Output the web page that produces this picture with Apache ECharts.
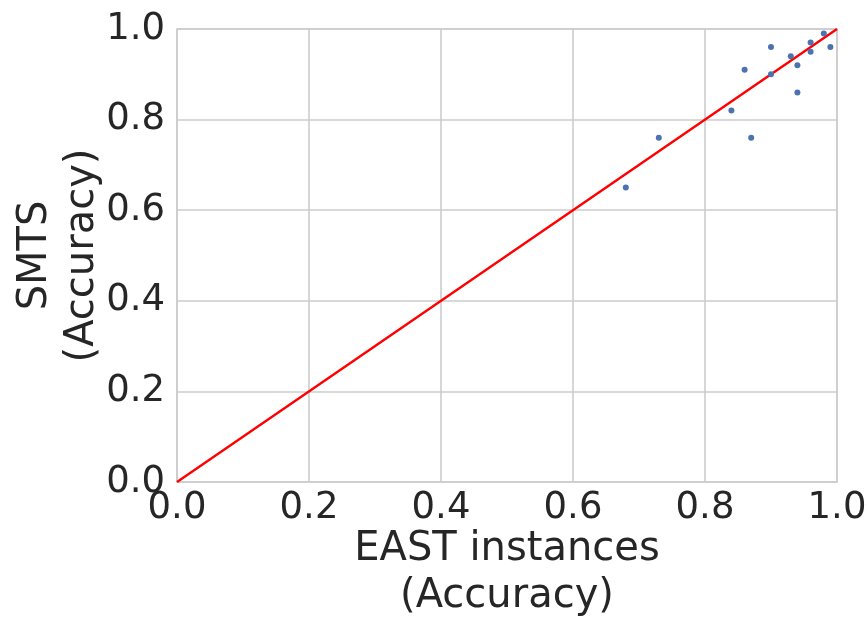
<!DOCTYPE html>
<html><head><meta charset="utf-8">
<script src="https://cdn.jsdelivr.net/npm/echarts@6/dist/echarts.min.js"></script>
<style>html,body{margin:0;padding:0;background:#fff}#c{width:868px;height:625px}</style>
</head><body><div id="c"></div>
<script>
const eastAcc = [0.98, 0.99, 0.96, 0.96, 0.93, 0.94, 0.90, 0.90, 0.86, 0.94, 0.84, 0.87, 0.73, 0.68];
const smtsAcc = [0.99, 0.96, 0.97, 0.95, 0.94, 0.92, 0.96, 0.90, 0.91, 0.86, 0.82, 0.76, 0.76, 0.65];
const diagX = [0, 1];
const diagY = [0, 1];
const xTitle = 'EAST instances\n(Accuracy)';
const yTitle = 'SMTS\n(Accuracy)';

const chart = echarts.init(document.getElementById('c'));
const font = 'DejaVu Sans';
chart.setOption({
  animation: false,
  backgroundColor: '#fff',
  grid: {left: 177, right: 31, top: 29, bottom: 143, containLabel: false, outerBoundsMode: 'none',
         show: true, borderColor: '#cccccc', borderWidth: 1.6},
  xAxis: {
    type: 'value', min: 0, max: 1, interval: 0.2,
    name: xTitle, nameLocation: 'middle', nameGap: 44, nameMoveOverlap: false,
    nameTextStyle: {fontFamily: font, fontSize: 40, color: '#262626', lineHeight: 47},
    axisLine: {show: false}, axisTick: {show: false},
    axisLabel: {fontFamily: font, fontSize: 37, color: '#262626', margin: 8, formatter: v => v.toFixed(1)},
    splitLine: {show: true, lineStyle: {color: '#cccccc', width: 1.6}}
  },
  yAxis: {
    type: 'value', min: 0, max: 1, interval: 0.2,
    name: yTitle, nameLocation: 'middle', nameGap: 71, nameMoveOverlap: false,
    nameTextStyle: {fontFamily: font, fontSize: 40, color: '#262626', lineHeight: 47},
    axisLine: {show: false}, axisTick: {show: false},
    axisLabel: {fontFamily: font, fontSize: 37, color: '#262626', margin: 12, formatter: v => v.toFixed(1)},
    splitLine: {show: true, lineStyle: {color: '#cccccc', width: 1.6}}
  },
  series: [
    {
      type: 'line', data: diagX.map((x, i) => [x, diagY[i]]),
      showSymbol: false, lineStyle: {color: '#ff0000', width: 2.4}, z: 2
    },
    {
      type: 'scatter', data: eastAcc.map((x, i) => [x, smtsAcc[i]]),
      symbolSize: 6, itemStyle: {color: '#4c72b0', opacity: 1}, z: 3
    }
  ]
});
</script></body></html>
